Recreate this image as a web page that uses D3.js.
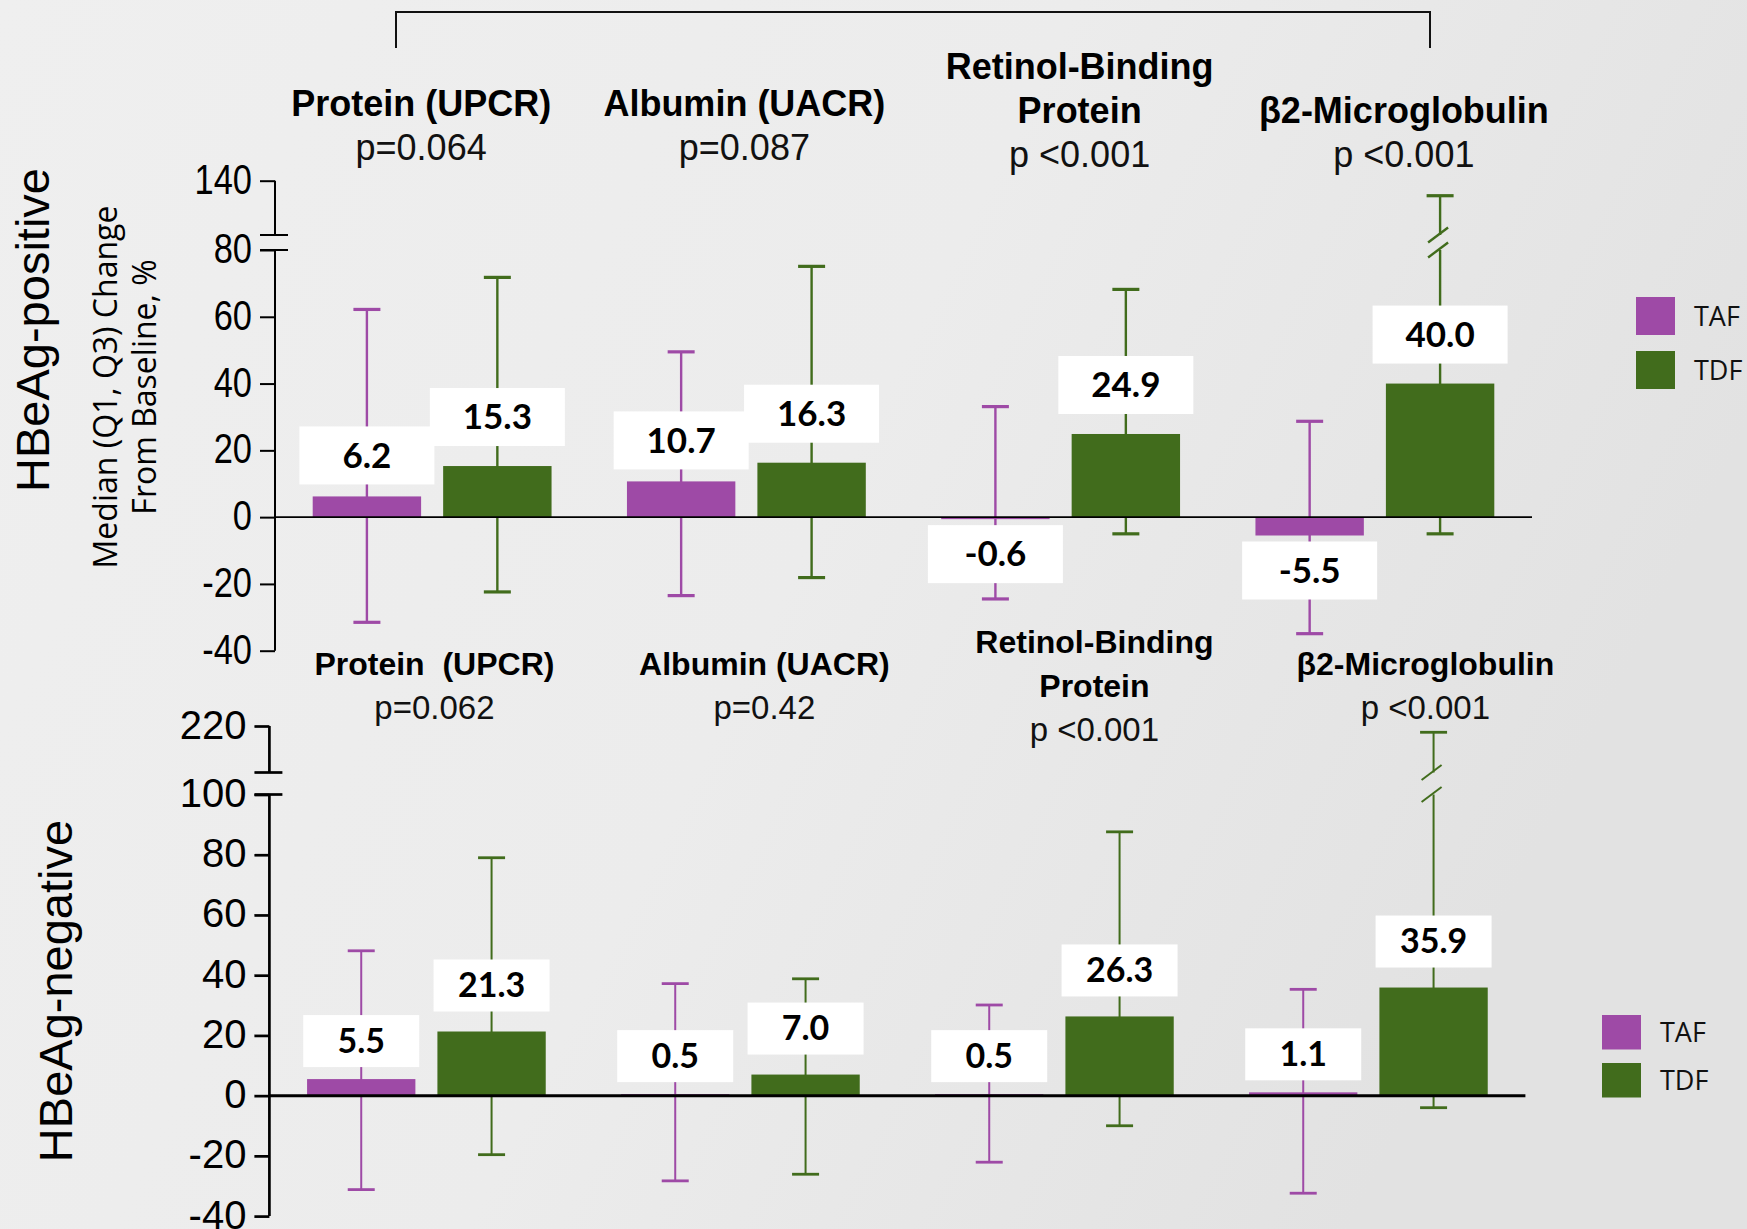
<!DOCTYPE html>
<html lang="en">
<head>
  <meta charset="UTF-8">
  <title>Renal markers by HBeAg status</title>
  <style>
    html, body { margin: 0; padding: 0; }
    body { width: 1747px; height: 1229px; overflow: hidden; background: #ebebeb; }
    svg { display: block; }
    .title { font-family: 'Liberation Sans', Arial, sans-serif; font-weight: bold; fill: #000; text-anchor: middle; white-space: pre; }
    .pval { font-family: 'Liberation Sans', Arial, sans-serif; fill: #111; text-anchor: middle; }
    .vlabel { font-family: Lato, 'Open Sans', sans-serif; font-weight: bold; fill: #000; text-anchor: middle; }
    .legend text { font-family: 'Open Sans', sans-serif; font-size: 27px; fill: #111; }
    .ytitle { text-anchor: middle; fill: #000; }
  </style>
</head>
<body>
<div id="chart"></div>
<script src="https://d3js.org/d3.v7.min.js"></script>
<script>
  // ---- data ----
  const categories = ['Protein (UPCR)', 'Albumin (UACR)', 'Retinol-Binding Protein', 'β2-Microglobulin'];
  const series = ['TAF', 'TDF'];

  const titlesTop = [['Protein (UPCR)'], ['Albumin (UACR)'], ['Retinol-Binding', 'Protein'], ['β2-Microglobulin']];
  const titlesBottom = [['Protein  (UPCR)'], ['Albumin (UACR)'], ['Retinol-Binding', 'Protein'], ['β2-Microglobulin']];
  const pTop = ['p=0.064', 'p=0.087', 'p <0.001', 'p <0.001'];
  const pBottom = ['p=0.062', 'p=0.42', 'p <0.001', 'p <0.001'];

  // HBeAg-positive: median, Q1, Q3 (% change from baseline)
  const posTAF = [6.2, 10.7, -0.6, -5.5];
  const posTAFq1 = [-31.5, -23.5, -24.5, -34.9];
  const posTAFq3 = [62.2, 49.5, 33.1, 28.7];
  const posTDF = [15.3, 16.3, 24.9, 40.0];
  const posTDFq1 = [-22.4, -18.1, -5.0, -5.0];
  const posTDFq3 = [71.8, 75.1, 68.2, 127];

  // HBeAg-negative
  const negTAF = [5.5, 0.5, 0.5, 1.1];
  const negTAFq1 = [-31.2, -28.3, -22.1, -32.4];
  const negTAFq3 = [48.1, 37.2, 30.1, 35.3];
  const negTDF = [21.3, 7.0, 26.3, 35.9];
  const negTDFq1 = [-19.6, -26.1, -10.0, -4.0];
  const negTDFq3 = [79.0, 38.8, 87.6, 209];

  const ticksTop = [-40, -20, 0, 20, 40, 60, 80, 140];
  const ticksBottom = [-40, -20, 0, 20, 40, 60, 80, 100, 220];

  const colors = { TAF: '#9e4aa6', TDF: '#416c1c' };

  const width = 1747;
  const height = 1229;

  const svg = d3.select('#chart')
    .append('svg')
    .attr('width', width)
    .attr('height', height);

  // background
  const defs = svg.append('defs');
  const grad = defs.append('linearGradient')
    .attr('id', 'bg')
    .attr('x1', 0).attr('y1', 0).attr('x2', 1).attr('y2', 0.35);
  grad.append('stop').attr('offset', 0).attr('stop-color', '#efefef');
  grad.append('stop').attr('offset', 0.55).attr('stop-color', '#ececec');
  grad.append('stop').attr('offset', 1).attr('stop-color', '#e2e2e2');
  svg.append('rect').attr('width', width).attr('height', height).attr('fill', 'url(#bg)');

  // bracket over the top panel
  svg.append('path')
    .attr('d', 'M396,48V12H1430V48')
    .attr('fill', 'none')
    .attr('stroke', '#111')
    .attr('stroke-width', 2);

  function rowsFor(taf, tafQ1, tafQ3, tdf, tdfQ1, tdfQ3) {
    const rows = [];
    categories.forEach((c, i) => {
      rows.push({ cat: c, s: 'TAF', v: taf[i], q1: tafQ1[i], q3: tafQ3[i] });
      rows.push({ cat: c, s: 'TDF', v: tdf[i], q1: tdfQ1[i], q3: tdfQ3[i] });
    });
    return rows;
  }

  function drawPanel(cfg) {
    const g = svg.append('g');

    const x0 = d3.scaleBand().domain(categories).range(cfg.xRange);
    const x1 = d3.scaleBand().domain(series).range([0, x0.bandwidth()])
      .paddingInner(0.169).paddingOuter(0.289);
    const y = d3.scaleLinear().domain(cfg.yDomain).range(cfg.yRange);
    const cx = d => x0(d.cat) + x1(d.s) + x1.bandwidth() / 2;

    const yBreakLo = y(cfg.breakAt);
    const yBreakHi = yBreakLo - cfg.breakGap;
    const ax0 = cfg.xRange[0];

    // y axis
    const axis = d3.axisLeft(y)
      .tickValues(cfg.ticks)
      .tickFormat(d => String(d))
      .tickSize(15)
      .tickPadding(8);
    const ax = g.append('g')
      .attr('transform', `translate(${ax0},0)`)
      .call(axis);
    ax.select('.domain').remove();
    ax.selectAll('.tick line').attr('stroke', '#000').attr('stroke-width', cfg.axisWidth);
    ax.selectAll('.tick text')
      .attr('fill', '#000')
      .attr('dy', '0.3em')
      .attr('x', -23 / cfg.tickStretch)
      .attr('transform', `scale(${cfg.tickStretch},1)`)
      .style('font-family', "'Liberation Sans', Arial, sans-serif")
      .style('font-size', cfg.tickSize + 'px');

    const yTop = y(cfg.yDomain[cfg.yDomain.length - 1]);
    const yBot = y(cfg.yDomain[0]);
    g.append('line').attr('x1', ax0).attr('x2', ax0).attr('y1', yTop).attr('y2', yBreakHi)
      .attr('stroke', '#000').attr('stroke-width', cfg.axisWidth);
    g.append('line').attr('x1', ax0).attr('x2', ax0).attr('y1', yBreakLo).attr('y2', yBot)
      .attr('stroke', '#000').attr('stroke-width', cfg.axisWidth);
    [yBreakHi, yBreakLo].forEach(yy => {
      g.append('line').attr('x1', ax0 - 15).attr('x2', ax0 + 13).attr('y1', yy).attr('y2', yy)
        .attr('stroke', '#000').attr('stroke-width', cfg.axisWidth);
    });

    const rows = cfg.rows;

    // whiskers (Q1..Q3)
    const wg = g.append('g');
    rows.forEach(d => {
      const x = cx(d);
      const col = colors[d.s];
      const seg = (ya, yb) => wg.append('line')
        .attr('x1', x).attr('x2', x).attr('y1', ya).attr('y2', yb)
        .attr('stroke', col).attr('stroke-width', cfg.whiskerWidth);
      if (d.q3 > cfg.breakAt && y(d.q3) < yBreakHi) {
        seg(y(d.q3), yBreakHi);
        seg(yBreakLo, y(d.q1));
        [yBreakHi, yBreakLo].forEach(yy => {
          wg.append('line')
            .attr('x1', x - 12).attr('y1', yy + 7.5)
            .attr('x2', x + 8).attr('y2', yy - 7.5)
            .attr('stroke', col).attr('stroke-width', cfg.whiskerWidth);
        });
      } else {
        seg(y(d.q3), y(d.q1));
      }
      [d.q1, d.q3].forEach(q => {
        wg.append('line')
          .attr('x1', x - 13.5).attr('x2', x + 13.5)
          .attr('y1', y(q)).attr('y2', y(q))
          .attr('stroke', col).attr('stroke-width', cfg.whiskerWidth + 0.8);
      });
    });

    // bars
    g.append('g')
      .selectAll('rect')
      .data(rows)
      .enter()
      .append('rect')
      .attr('x', d => x0(d.cat) + x1(d.s))
      .attr('width', x1.bandwidth())
      .attr('y', d => Math.min(y(d.v), y(0)))
      .attr('height', d => Math.abs(y(d.v) - y(0)))
      .attr('fill', d => colors[d.s]);

    // zero line
    g.append('line')
      .attr('x1', ax0).attr('x2', cfg.xRange[1])
      .attr('y1', y(0)).attr('y2', y(0))
      .attr('stroke', '#000').attr('stroke-width', cfg.zeroWidth);

    // value boxes
    const lg = g.append('g');
    rows.forEach(d => {
      const x = cx(d);
      let top;
      if (d.v >= 0) {
        top = y(d.v) - (d.s === 'TAF' ? 12 : 20) - cfg.boxH;
      } else {
        top = y(d.v) + 6;
      }
      lg.append('rect')
        .attr('x', x - cfg.boxW / 2).attr('y', top)
        .attr('width', cfg.boxW).attr('height', cfg.boxH)
        .attr('fill', '#fff');
      lg.append('text')
        .attr('class', 'vlabel')
        .attr('x', x)
        .attr('y', top + cfg.boxH / 2 + cfg.labelSize * 0.35)
        .style('font-size', cfg.labelSize + 'px')
        .text(d.v.toFixed(1));
    });

    // column titles and p-values
    categories.forEach((c, i) => {
      const x = x0(c) + x0.bandwidth() / 2 + cfg.titleNudge[i];
      const pY = cfg.pBase[i];
      const lines = cfg.titles[i];
      lines.forEach((t, k) => {
        g.append('text')
          .attr('class', 'title')
          .attr('x', x)
          .attr('y', pY - cfg.lineGap * (lines.length - k))
          .style('font-size', cfg.titleSize + 'px')
          .text(t);
      });
      g.append('text')
        .attr('class', 'pval')
        .attr('x', x)
        .attr('y', pY)
        .style('font-size', cfg.pSize + 'px')
        .text(cfg.p[i]);
    });

    // legend
    const leg = g.append('g').attr('class', 'legend');
    series.forEach((s, i) => {
      leg.append('rect')
        .attr('x', cfg.legend.x).attr('y', cfg.legend.y[i])
        .attr('width', 39).attr('height', cfg.legend.h)
        .attr('fill', colors[s]);
      leg.append('text')
        .attr('x', cfg.legend.x + cfg.legend.tx)
        .attr('y', cfg.legend.y[i] + cfg.legend.h / 2 + 10)
        .text(s);
    });
  }

  drawPanel({
    rows: rowsFor(posTAF, posTAFq1, posTAFq3, posTDF, posTDFq1, posTDFq3),
    xRange: [275, 1532],
    yDomain: [-40, 80, 140],
    yRange: [650.7, 250, 180.7],
    ticks: ticksTop,
    breakAt: 80,
    breakGap: 15,
    axisWidth: 2,
    zeroWidth: 1.8,
    whiskerWidth: 2.4,
    tickStretch: 0.82,
    tickSize: 42,
    boxW: 135, boxH: 58, labelSize: 35,
    titles: titlesTop, p: pTop,
    titleNudge: [-11, -2, 19, 29],
    pBase: [160, 160, 167, 167],
    lineGap: 44,
    titleSize: 36, pSize: 36,
    legend: { x: 1636, y: [297, 351], h: 38, tx: 58 }
  });

  drawPanel({
    rows: rowsFor(negTAF, negTAFq1, negTAFq3, negTDF, negTDFq1, negTDFq3),
    xRange: [269.4, 1525.4],
    yDomain: [-40, 100, 220],
    yRange: [1216.1, 794.5, 726],
    ticks: ticksBottom,
    breakAt: 100,
    breakGap: 22,
    axisWidth: 2.7,
    zeroWidth: 3,
    whiskerWidth: 2,
    tickStretch: 1,
    tickSize: 40,
    boxW: 116, boxH: 52, labelSize: 34,
    titles: titlesBottom, p: pBottom,
    titleNudge: [8, 24, 40, 57],
    pBase: [719, 719, 741, 719],
    lineGap: 44,
    titleSize: 32, pSize: 33,
    legend: { x: 1602, y: [1015, 1063], h: 34.5, tx: 58 }
  });

  // side titles
  const sideTitle = (txt, x, yC, font, size) => svg.append('text')
    .attr('class', 'ytitle')
    .attr('transform', `translate(${x},${yC}) rotate(-90)`)
    .style('font-family', font)
    .style('font-size', size + 'px')
    .text(txt);

  sideTitle('HBeAg-positive', 49, 330, "'Liberation Sans', Arial, sans-serif", 47);
  sideTitle('Median (Q1, Q3) Change', 117, 387, "'Open Sans', sans-serif", 32);
  sideTitle('From Baseline, %', 156, 387, "'Open Sans', sans-serif", 32);
  sideTitle('HBeAg-negative', 72, 991, "'Liberation Sans', Arial, sans-serif", 47);
</script>
</body>
</html>
